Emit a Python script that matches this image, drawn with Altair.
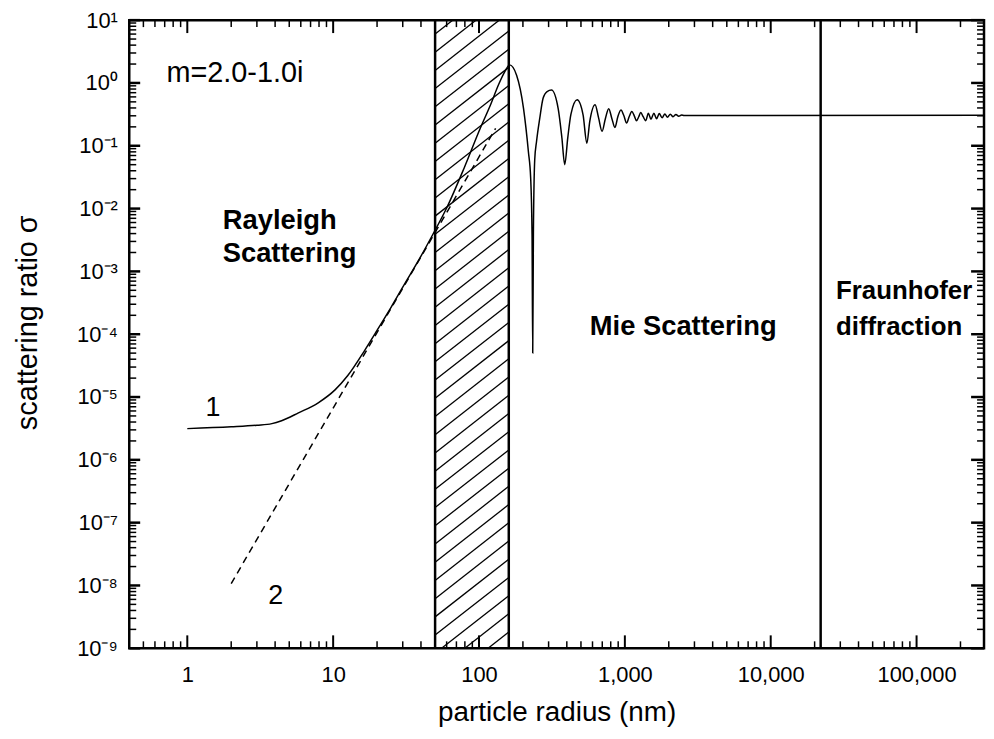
import json
import altair as alt
import pandas as pd

# ---------------- data ----------------
# curve 1: full calculation, particle radius (nm) vs scattering ratio sigma
c1_r = [1, 2, 3, 3.8, 4.43, 5.78, 7.9, 10.3, 12.6, 16.5, 20, 25, 30, 40, 48, 60, 79, 102, 120, 137,
        150, 162, 181, 202, 218, 226, 231, 233.5, 236, 241, 248, 261, 275, 293, 314, 349, 370, 387,
        406, 427, 471, 517, 549, 574, 625, 660, 698, 735, 775, 815, 855, 895, 940, 985, 1028, 1070,
        1116, 1160, 1202, 1245, 1285, 1335, 1390, 1450, 1510, 1580, 1650, 1720, 1800, 1880, 1960,
        2050, 2140, 2240, 2340, 2450, 2550, 290000]
c1_s = [3.14e-6, 3.35e-6, 3.55e-6, 3.77e-6, 4.2e-6, 5.6e-6, 8.1e-6, 1.3e-5, 2.2e-5, 5.6e-5, 1.15e-4,
        2.7e-4, 5.6e-4, 1.75e-3, 3.8e-3, 0.0102, 0.044, 0.19, 0.45, 0.97, 1.5, 1.94, 1.33, 0.39,
        0.081, 0.031, 0.004, 5e-5, 0.004, 0.06, 0.117, 0.275, 0.57, 0.73, 0.77, 0.39, 0.134, 0.05,
        0.134, 0.32, 0.54, 0.31, 0.11, 0.24, 0.45, 0.28, 0.17, 0.27, 0.39, 0.27, 0.195, 0.29, 0.37,
        0.3, 0.23, 0.29, 0.35, 0.3, 0.25, 0.29, 0.339, 0.29, 0.251, 0.33, 0.265, 0.33, 0.27, 0.325,
        0.28, 0.32, 0.285, 0.318, 0.29, 0.315, 0.295, 0.31, 0.303, 0.307]
assert len(c1_r) == len(c1_s)

# curve 2: Rayleigh approximation (dashed)
c2_r = [2, 130]
c2_s = [1.07e-8, 0.19]

# region boundaries
band_lo, band_hi = 50, 160
fraunhofer_r = 22000

x_major = [1, 10, 100, 1000, 10000, 100000]
x_labels = ["1", "10", "100", "1,000", "10,000", "100,000"]
y_major = [1e-9, 1e-8, 1e-7, 1e-6, 1e-5, 1e-4, 1e-3, 1e-2, 1e-1, 1e0, 1e1]
y_labels = ["10⁻⁹", "10⁻⁸", "10⁻⁷", "10⁻⁶", "10⁻⁵", "10⁻⁴", "10⁻³", "10⁻²", "10⁻¹", "10⁰", "10¹"]

ann_text = ["Rayleigh", "Scattering", "Mie Scattering", "Fraunhofer", "diffraction"]
ann_r = [1.75, 1.75, 575, 28000, 28000]
ann_s = [4.8e-3, 1.43e-3, 9.6e-5, 3.7e-4, 9.6e-5]
ann_size = [27.5, 27.5, 27.5, 26, 26]

note_text = ["m=2.0-1.0i"]
note_r = [0.72]
note_s = [1.04]

curve_lab = ["1", "2"]
curve_lab_r = [1.5, 4.03]
curve_lab_s = [4.9e-6, 5.15e-9]

# ---------------- chart ----------------
FONT = "Liberation Sans"
W, H = 860, 632
XD = [0.4, 2.9e5]
YD = [1e-9, 10]
xs = alt.Scale(type="log", domain=XD)
ys = alt.Scale(type="log", domain=YD)

x_minor = [m * 10.0 ** k for k in range(-1, 6) for m in range(2, 10) if XD[0] <= m * 10.0 ** k <= XD[1]]
y_minor = [m * 10.0 ** k for k in range(-9, 1) for m in range(2, 10)]

xlab_expr = json.dumps(x_labels, ensure_ascii=False) + "[round(log(datum.value)/LN10)]"
ylab_expr = json.dumps(y_labels, ensure_ascii=False) + "[round(log(datum.value)/LN10)+9]"

AX = alt.Axis(values=x_major, labelExpr=xlab_expr, ticks=False, domain=False, grid=False,
              labelFont=FONT, labelFontSize=22, labelColor="black", labelPadding=16,
              labelFlush=False, title="particle radius (nm)", titleFont=FONT,
              titleFontSize=28, titleFontWeight="normal", titleColor="black",
              titleX=430, titleY=73, titleBaseline="alphabetic")
AY = alt.Axis(values=y_major, labelExpr=ylab_expr, ticks=False, domain=False, grid=False,
              labelFont=FONT, labelFontSize=22, labelColor="black", labelPadding=12,
              labelFlush=False, title="scattering ratio σ", titleFont=FONT,
              titleFontSize=29, titleFontWeight="normal", titleColor="black",
              titleAngle=270, titleX=-93, titleY=304, titleBaseline="alphabetic",
              titleAlign="center")


def X(field):
    return alt.X(field, scale=xs, axis=AX)


def Y(field):
    return alt.Y(field, scale=ys, axis=AY)


c1 = pd.DataFrame({"r": c1_r, "s": c1_s})
c2 = pd.DataFrame({"r": c2_r, "s": c2_s})

curve1 = alt.Chart(c1).mark_line(color="black", strokeWidth=1.5, interpolate="monotone", clip=True).encode(
    x=X("r:Q"), y=Y("s:Q"))

curve2 = alt.Chart(c2).mark_line(color="black", strokeWidth=1.5, strokeDash=[7, 5], clip=True).encode(
    x=X("r:Q"), y=Y("s:Q"))

# hatching of the transition band (decoration)
step, rise = 0.29, 0.918
h_y1 = [10 ** (-9.95 + k * step) for k in range(40)]
hatch = pd.DataFrame({"x1": [band_lo] * len(h_y1), "x2": [band_hi] * len(h_y1),
                      "y1": h_y1, "y2": [v * 10 ** rise for v in h_y1]})
hatch_layer = alt.Chart(hatch).mark_rule(color="black", strokeWidth=1.3, clip=True).encode(
    x=X("x1:Q"), x2="x2:Q", y=Y("y1:Q"), y2="y2:Q")

vlines = alt.Chart(pd.DataFrame({"r": [band_lo, band_hi, fraunhofer_r]})).mark_rule(
    color="black", strokeWidth=2.5).encode(x=X("r:Q"))


def xticks(vals, length, sw, top):
    y0, y1 = (0, length) if top else (H, H - length)
    return alt.Chart(pd.DataFrame({"v": vals})).mark_rule(color="black", strokeWidth=sw).encode(
        x=X("v:Q"), y=alt.value(y0), y2=alt.value(y1))


def yticks(vals, length, sw, right):
    x0, x1 = (W, W - length) if right else (0, length)
    return alt.Chart(pd.DataFrame({"v": vals})).mark_rule(color="black", strokeWidth=sw).encode(
        y=Y("v:Q"), x=alt.value(x0), x2=alt.value(x1))


ticks = [
    xticks(x_major, 13, 2, False), xticks(x_major, 13, 2, True),
    xticks(x_minor, 7, 1.5, False), xticks(x_minor, 7, 1.5, True),
    yticks(y_major, 11, 2.5, False), yticks(y_major, 13, 2.5, True),
    yticks(y_minor, 7, 1.5, False), yticks(y_minor, 7, 1.5, True),
]

ann = alt.Chart(pd.DataFrame({"t": ann_text, "r": ann_r, "s": ann_s, "z": ann_size})).mark_text(
    font=FONT, fontWeight="bold", align="left", baseline="alphabetic", color="black"
).encode(x=X("r:Q"), y=Y("s:Q"), text="t:N", size=alt.Size("z:Q", scale=None, legend=None))

note = alt.Chart(pd.DataFrame({"t": note_text, "r": note_r, "s": note_s})).mark_text(
    font=FONT, fontSize=29, align="left", baseline="alphabetic", color="black"
).encode(x=X("r:Q"), y=Y("s:Q"), text="t:N")

clab = alt.Chart(pd.DataFrame({"t": curve_lab, "r": curve_lab_r, "s": curve_lab_s})).mark_text(
    font=FONT, fontSize=27, align="center", baseline="alphabetic", color="black"
).encode(x=X("r:Q"), y=Y("s:Q"), text="t:N")

chart = alt.layer(curve1, hatch_layer, vlines, curve2, *ticks, ann, note, clab).properties(
    width=W, height=H,
    padding={"left": 122, "top": 10, "right": 2, "bottom": 80},
    autosize=alt.AutoSizeParams(type="none"),
    background="white",
).configure_view(stroke="black", strokeWidth=2.5)

chart.save("out.html", embed_options={"renderer": "svg", "actions": False})
